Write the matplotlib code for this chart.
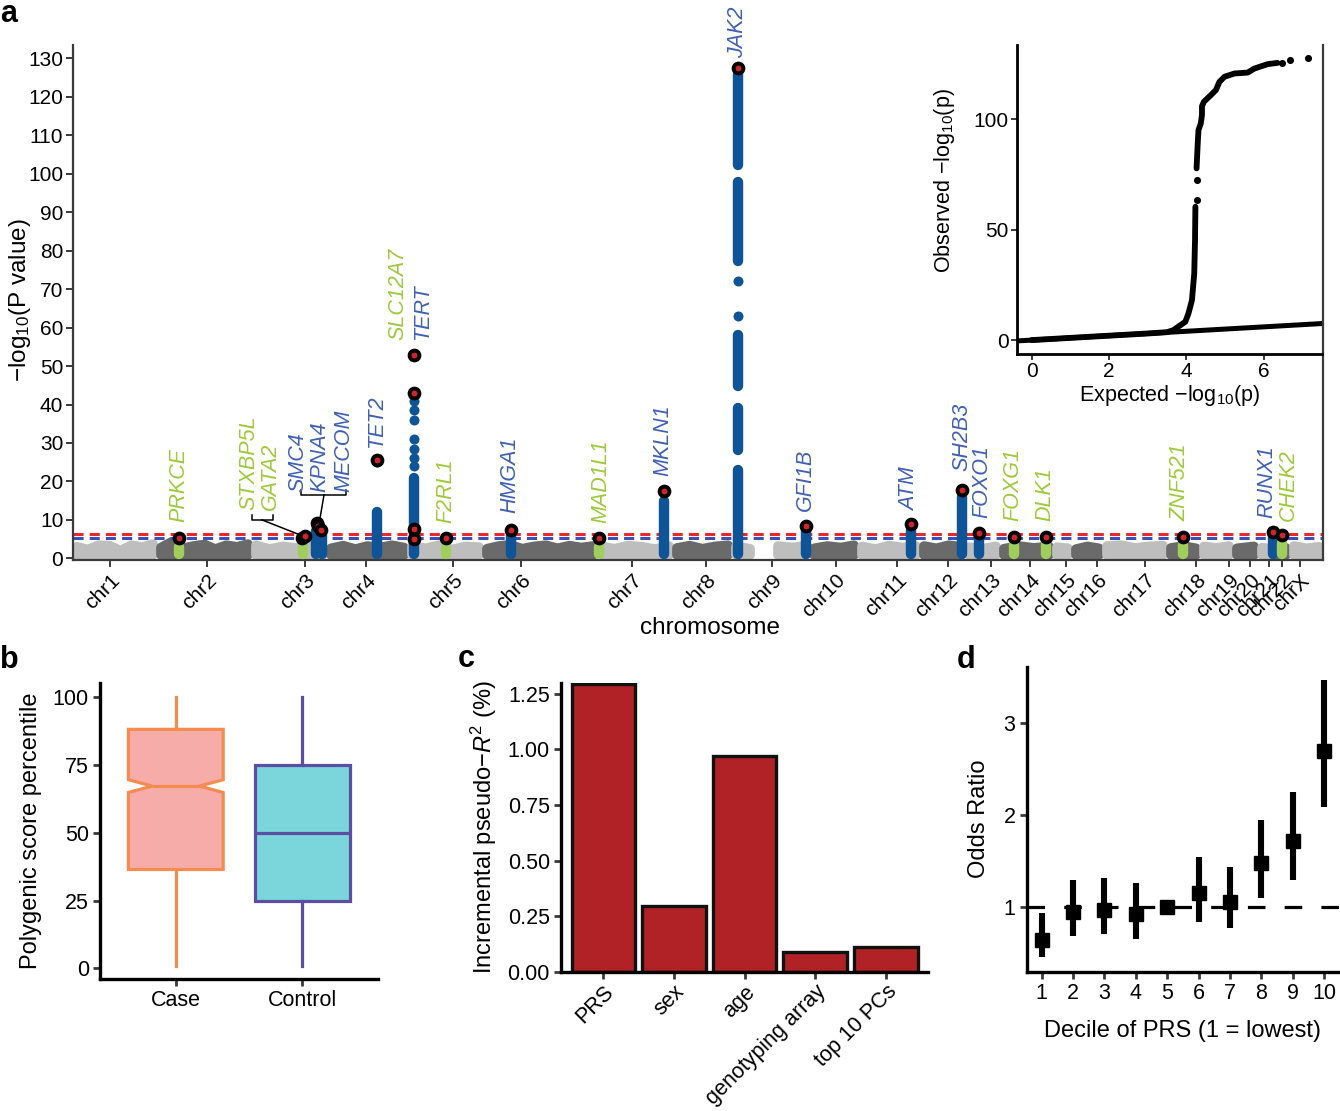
import numpy as np
import matplotlib
matplotlib.use('Agg')
import matplotlib.pyplot as plt
from matplotlib.patches import Polygon

plt.rcParams['font.family'] = ['Liberation Sans', 'DejaVu Sans']
plt.rcParams['mathtext.fontset'] = 'custom'
plt.rcParams['mathtext.rm'] = 'Liberation Sans'
plt.rcParams['mathtext.it'] = 'Liberation Sans:italic'
plt.rcParams['mathtext.bf'] = 'Liberation Sans:bold'

# ======================= DATA =======================
# --- panel a: Manhattan (x = cumulative genomic index, arbitrary units) ---
chrom_names = ['chr1', 'chr2', 'chr3', 'chr4', 'chr5', 'chr6', 'chr7', 'chr8', 'chr9',
               'chr10', 'chr11', 'chr12', 'chr13', 'chr14', 'chr15', 'chr16', 'chr17',
               'chr18', 'chr19', 'chr20', 'chr21', 'chr22', 'chrX']
chrom_start = [0, 84, 179, 254, 335, 410, 524, 600, 659, 737, 785, 847, 892, 927, 980,
               999, 1030, 1094, 1127, 1160, 1185, 1200, 1217]
chrom_end = [84, 179, 254, 335, 410, 524, 600, 659, 737, 785, 847, 892, 927, 980, 999,
             1030, 1094, 1127, 1160, 1185, 1200, 1217, 1250]
chrom_tick = [37, 134, 232, 293, 380, 448, 559, 633, 699, 763, 824, 875, 918, 957, 993,
              1024, 1072, 1123, 1156, 1177, 1196, 1209, 1227]
# upper envelope of the non-significant variant cloud, per chromosome (-log10 P)
chrom_envelope = [
    [3.0, 2.3, 3.4, 3.3, 2.0, 3.4, 2.9, 3.7],
    [2.8, 4.3, 2.6, 3.2, 3.6, 2.4, 3.4, 3.0, 3.7],
    [3.4, 2.4, 3.1, 2.7, 3.3, 3.0],
    [2.6, 3.3, 2.4, 3.2, 2.8, 3.4, 2.8],
    [3.2, 2.6, 3.4, 2.3, 3.1, 2.9],
    [2.5, 3.2, 3.5, 2.5, 3.1, 3.4, 2.6, 3.3, 2.8, 3.2],
    [3.1, 2.5, 3.3, 3.0, 2.4, 3.2],
    [2.7, 3.3, 2.5, 3.1, 3.4],
    [3.1, 2.5, 0.0, 3.2, 2.8, 3.3],
    [2.6, 3.2, 2.8, 3.4],
    [3.1, 2.4, 3.3, 2.8, 3.2],
    [3.2, 2.6, 3.4, 3.0],
    [2.9, 2.5, 3.1],
    [2.5, 3.2, 2.7, 3.1],
    [2.9, 2.6],
    [2.4, 3.1, 2.6],
    [3.2, 3.4, 2.7, 3.1, 3.3],
    [2.7, 3.2, 2.6],
    [3.1, 2.7, 3.2],
    [2.6, 3.1],
    [2.8, 2.5],
    [2.9, 2.7],
    [3.2, 2.6, 3.0],
]
red_threshold = 6.4
blue_threshold = 5.2

# dense runs of associated variants at each locus (lowest / highest -log10 P of run)
col_pos = [106, 230, 243, 249, 304, 341, 373, 438, 526, 591, 665, 665, 665, 665, 665,
           733, 838, 889, 906, 941, 973, 1110, 1200, 1209]
col_lo = [1.2, 1.2, 1.2, 1.2, 1.2, 1.2, 1.2, 1.2, 1.2, 1.2, 1.2, 28.2, 44.7, 77.2, 102.4,
          1.2, 1.2, 1.2, 1.2, 1.2, 1.2, 1.2, 1.2, 1.2]
col_hi = [3.0, 3.4, 7.2, 6.2, 12.0, 21.0, 3.0, 6.2, 3.0, 15.0, 23.0, 39.0, 58.0, 98.0,
          126.0, 7.0, 7.5, 16.0, 5.5, 3.5, 3.5, 3.5, 6.0, 4.0]
col_group = ['g', 'g', 'b', 'b', 'b', 'b', 'g', 'b', 'g', 'b', 'b', 'b', 'b', 'b', 'b',
             'b', 'b', 'b', 'b', 'g', 'g', 'g', 'b', 'g']
# isolated variants above the dense runs
pt_pos = [304, 341, 341, 341, 341, 341, 341, 341, 341, 665, 665]
pt_p = [25.0, 24.0, 26.0, 28.5, 31.0, 36.0, 38.5, 41.0, 42.0, 62.9, 72.0]
# lead variants
lead_pos = [106, 229, 232, 244, 245, 248, 304, 341, 341, 341, 341, 373, 438, 526, 591,
            665, 733, 838, 889, 906, 941, 973, 1110, 1200, 1209]
lead_p = [5.2, 5.2, 5.7, 9.3, 8.4, 7.4, 25.6, 52.9, 43.0, 7.6, 5.1, 5.2, 7.5, 5.3, 17.4,
          127.4, 8.3, 8.9, 17.8, 6.7, 5.5, 5.5, 5.5, 6.9, 6.1]
# gene labels
gene_names = ['PRKCE', 'STXBP5L', 'GATA2', 'SMC4', 'KPNA4', 'MECOM', 'TET2', 'SLC12A7',
              'TERT', 'F2RL1', 'HMGA1', 'MAD1L1', 'MKLN1', 'JAK2', 'GFI1B', 'ATM', 'SH2B3',
              'FOXO1', 'FOXG1', 'DLK1', 'ZNF521', 'RUNX1', 'CHEK2']
gene_group = ['g', 'g', 'g', 'b', 'b', 'b', 'b', 'g', 'b', 'g', 'b', 'g', 'b', 'b', 'b',
              'b', 'b', 'b', 'g', 'g', 'g', 'b', 'g']

# --- inset: QQ plot ---
qq_exp_dense1 = [0.0, 1.0, 2.0, 3.0, 3.5, 3.66, 3.97, 4.05, 4.14, 4.20, 4.22, 4.23]
qq_obs_dense1 = [0.0, 1.0, 2.0, 3.0, 3.6, 4.5, 8.3, 12.0, 18.0, 30.0, 45.0, 60.4]
qq_exp_dense2 = [4.26, 4.29, 4.31, 4.37, 4.40, 4.40, 4.45, 4.63, 4.76, 4.85, 4.98, 5.24,
                 5.58, 5.75, 6.09, 6.35]
qq_obs_dense2 = [77.8, 89.1, 95.2, 98.2, 102.0, 106.0, 108.0, 111.0, 113.3, 117.0, 119.3,
                 120.8, 121.2, 123.0, 125.0, 125.6]
qq_exp_sparse = [4.26, 4.26, 6.46, 6.67, 7.15]
qq_obs_sparse = [63.4, 72.6, 125.6, 126.9, 127.6]

# --- panel b: boxplot of PRS percentile ---
box_groups = ['Case', 'Control']
box_q1 = [36.5, 25.0]
box_med = [67.3, 50.0]
box_q3 = [88.2, 75.0]
box_lo = [1.0, 1.0]
box_hi = [100.0, 100.0]
box_ci_lo = [64.9, 50.0]
box_ci_hi = [69.6, 50.0]

# --- panel c: incremental pseudo R2 ---
r2_terms = ['PRS', 'sex', 'age', 'genotyping array', 'top 10 PCs']
r2_values = [1.295, 0.296, 0.968, 0.087, 0.109]

# --- panel d: odds ratio by PRS decile ---
deciles = [1, 2, 3, 4, 5, 6, 7, 8, 9, 10]
or_est = [0.645, 0.952, 0.97, 0.93, 1.0, 1.15, 1.06, 1.48, 1.72, 2.70]
or_lo = [0.46, 0.69, 0.71, 0.66, 1.0, 0.84, 0.78, 1.10, 1.30, 2.09]
or_hi = [0.94, 1.30, 1.32, 1.26, 1.0, 1.55, 1.44, 1.95, 2.25, 3.47]

# ======================= STYLE / LAYOUT =======================
W, H = 1340, 1111
BLUE_PT = '#0f5496'
GREEN_PT = '#a0ce5c'
BLUE_TXT = '#4060b4'
GREEN_TXT = '#9dc93a'
LIGHT = '#bebebe'
DARK = '#6a6a6a'
AXC = '#3a3a3a'

# label placement (x in axis units, bottom of text in -log10 P)
gene_lab_x = [106, 176, 197, 225, 247, 271, 304, 325, 350, 373, 437, 528, 590, 665, 732,
              837, 889, 909, 940, 972, 1107, 1194, 1215]
gene_lab_y = [9.5, 12.6, 12.6, 17.2, 17.2, 17.2, 28.7, 56.8, 56.8, 9.2, 11.8, 9.3, 21.3,
              130.0, 12.2, 12.2, 22.6, 10.4, 9.6, 9.6, 9.6, 10.4, 9.6]


def rect(l, t, r, b):
    return [l / W, 1 - b / H, (r - l) / W, (b - t) / H]


fig = plt.figure(figsize=(W / 100, H / 100), dpi=100)

# ---------------- panel a ----------------
axm = fig.add_axes(rect(73, 45, 1323, 559.5))
axm.set_xlim(0, 1250)
axm.set_ylim(-0.3, 133.5)

for i in range(len(chrom_names)):
    env = chrom_envelope[i]
    col = LIGHT if i % 2 == 0 else DARK
    xs = np.linspace(chrom_start[i] + 4, chrom_end[i] - 4, len(env))
    segs, cur = [], []
    for x, v in zip(xs, env):
        if v <= 0:
            if cur:
                segs.append(cur)
            cur = []
        else:
            cur.append((x, v))
    if cur:
        segs.append(cur)
    for s in segs:
        if len(s) == 1:
            s = [(s[0][0] - 4, s[0][1]), (s[0][0] + 4, s[0][1])]
        poly = [(s[0][0], 0.9)] + s + [(s[-1][0], 0.9)]
        axm.add_patch(Polygon(poly, closed=True, facecolor=col, edgecolor=col,
                              lw=7, joinstyle='round', zorder=1))

axm.axhline(red_threshold, color='#e8282c', lw=2.2, dashes=(3.3, 2.0), zorder=2)
axm.axhline(blue_threshold, color='#3b50b2', lw=2.2, dashes=(3.3, 2.0), zorder=2)

for x, lo, hi, g in zip(col_pos, col_lo, col_hi, col_group):
    axm.plot([x, x], [lo, hi], color=BLUE_PT if g == 'b' else GREEN_PT, lw=7.5,
             solid_capstyle='round', zorder=3)
axm.scatter(pt_pos, pt_p, s=52, color=BLUE_PT, lw=0, zorder=3)
axm.scatter(lead_pos, lead_p, s=50, facecolor='#d0262b', edgecolor='black', lw=2.8,
            zorder=5)

for name, g, lx, ly in zip(gene_names, gene_group, gene_lab_x, gene_lab_y):
    axm.text(lx, ly, name, rotation=90, ha='center', va='bottom', style='italic',
             fontsize=15.5, color=BLUE_TXT if g == 'b' else GREEN_TXT, zorder=6)

# brackets for grouped labels
axm.plot([179, 179, 200, 200], [11.3, 10.0, 10.0, 11.3], color='black', lw=1.1)
axm.plot([189, 227], [10.0, 6.1], color='black', lw=1.1)
axm.plot([228, 228, 273, 273], [17.8, 16.5, 16.5, 17.8], color='black', lw=1.1)
axm.plot([251, 247], [16.5, 10.4], color='black', lw=1.1)

axm.set_xticks(chrom_tick)
axm.set_xticklabels(chrom_names, rotation=45, ha='right', va='top',
                    rotation_mode='anchor')
axm.set_yticks(np.arange(0, 131, 10))
axm.spines['top'].set_visible(False)
for s in ['left', 'bottom', 'right']:
    axm.spines[s].set_color(AXC)
    axm.spines[s].set_linewidth(1.6)
axm.tick_params(labelsize=15, length=5, width=1.4, color=AXC, labelcolor='black',
                pad=2)
axm.tick_params(axis='x', pad=3)
fig.text(710 / W, 1 - 628 / H, 'chromosome', ha='center', va='center', fontsize=17.5)
fig.text(20 / W, 1 - 300 / H, '−log$_{10}$(P value)', rotation=90, ha='center',
         va='center', fontsize=17.5)

# ---------------- inset QQ ----------------
axq = fig.add_axes(rect(1017.3, 45, 1322, 354))
axq.patch.set_alpha(0)
axq.set_xlim(-0.37, 7.5)
axq.set_ylim(-6.3, 133.7)
axq.axline((0, 0), slope=1, color='black', lw=3.6, zorder=2)
axq.plot(qq_exp_dense1, qq_obs_dense1, color='black', lw=4.2, solid_capstyle='round',
         solid_joinstyle='round', zorder=3)
axq.plot(qq_exp_dense2, qq_obs_dense2, color='black', lw=4.2, solid_capstyle='round',
         solid_joinstyle='round', zorder=3)
axq.scatter(qq_exp_sparse, qq_obs_sparse, s=26, color='black', lw=0, zorder=3)
axq.set_xticks([0, 2, 4, 6])
axq.set_yticks([0, 50, 100])
for s in ['top', 'right']:
    axq.spines[s].set_visible(False)
for s in ['left', 'bottom']:
    axq.spines[s].set_color('black')
    axq.spines[s].set_linewidth(2.0)
axq.tick_params(labelsize=15, length=4, width=1.4, color=AXC, pad=2)
axq.set_xlabel('Expected −log$_{10}$(p)', fontsize=15.5, labelpad=1)
axq.set_ylabel('Observed −log$_{10}$(p)', fontsize=15.5)
axq.yaxis.set_label_coords(-0.198, 0.56)

# ---------------- panel b ----------------
axb = fig.add_axes(rect(100, 683, 378, 979))
edge_cols = ['#f58c4f', '#5b4ea3']
fill_cols = ['#f6aca8', '#7ad6db']
for i in range(2):
    st = dict(label=box_groups[i], q1=box_q1[i], med=box_med[i], q3=box_q3[i],
              whislo=box_lo[i], whishi=box_hi[i], cilo=box_ci_lo[i],
              cihi=box_ci_hi[i], fliers=[])
    axb.bxp([st], positions=[i + 1], widths=0.75, shownotches=(i == 0),
            patch_artist=True, showcaps=False, showfliers=False,
            boxprops=dict(facecolor=fill_cols[i], edgecolor=edge_cols[i], lw=2.3),
            whiskerprops=dict(color=edge_cols[i], lw=2.3),
            medianprops=dict(color=edge_cols[i], lw=2.3))
axb.set_xlim(0.4, 2.6)
axb.set_ylim(-3.9, 105.3)
axb.set_yticks([0, 25, 50, 75, 100])
axb.set_xticks([1, 2])
axb.set_xticklabels(box_groups)
for s in ['top', 'right']:
    axb.spines[s].set_visible(False)
for s in ['left', 'bottom']:
    axb.spines[s].set_linewidth(2.4)
    axb.spines[s].set_color('black')
axb.tick_params(labelsize=15.5, length=5, width=2, color=AXC, pad=3)
axb.set_ylabel('Polygenic score percentile', fontsize=17, labelpad=8)

# ---------------- panel c ----------------
axc = fig.add_axes(rect(561, 683.3, 928.3, 971.7))
xc = np.arange(1, len(r2_terms) + 1)
axc.bar(xc, r2_values, width=0.9, color='#b02225', edgecolor='#111111', lw=2.4)
axc.set_xlim(0.4, 5.6)
axc.set_ylim(0, 1.297)
axc.set_yticks([0, 0.25, 0.5, 0.75, 1.0, 1.25])
axc.set_yticklabels(['0.00', '0.25', '0.50', '0.75', '1.00', '1.25'])
axc.set_xticks(xc)
axc.set_xticklabels(r2_terms, rotation=45, ha='right', va='top', rotation_mode='anchor')
for s in ['top', 'right']:
    axc.spines[s].set_visible(False)
for s in ['left', 'bottom']:
    axc.spines[s].set_linewidth(2.4)
    axc.spines[s].set_color('black')
axc.tick_params(labelsize=15.5, length=5, width=2, color=AXC, pad=3)
axc.tick_params(axis='x', pad=2)
axc.set_ylabel('Incremental pseudo−$\\mathit{R}^2$ (%)', fontsize=17, labelpad=6)

# ---------------- panel d ----------------
axd = fig.add_axes(rect(1026.7, 666.7, 1339, 971.7))
axd.set_xlim(0.52, 10.48)
axd.set_ylim(0.30, 3.615)
axd.axhline(1.0, color='black', lw=2.3, dashes=(5.5, 6), zorder=1)
d = np.array(deciles)
axd.vlines(d, or_lo, or_hi, color='black', lw=4.4, zorder=2)
axd.plot(d, or_est, ls='none', marker='s', ms=10.5, color='black', zorder=3)
axd.set_xticks(deciles)
axd.set_yticks([1, 2, 3])
for s in ['top', 'right']:
    axd.spines[s].set_visible(False)
for s in ['left', 'bottom']:
    axd.spines[s].set_linewidth(2.4)
    axd.spines[s].set_color('black')
axd.tick_params(labelsize=15.5, length=5, width=2, color=AXC, pad=3)
axd.set_xlabel('Decile of PRS (1 = lowest)', fontsize=17, labelpad=12)
axd.set_ylabel('Odds Ratio', fontsize=17, labelpad=10)

# ---------------- panel letters ----------------
for lab, x, y in [('a', 0, 22), ('b', 0, 668), ('c', 458, 667), ('d', 957, 668)]:
    fig.text(x / W, 1 - y / H, lab, fontsize=22, fontweight='bold', ha='left',
             va='baseline')

fig.savefig('out.png', dpi=100)
